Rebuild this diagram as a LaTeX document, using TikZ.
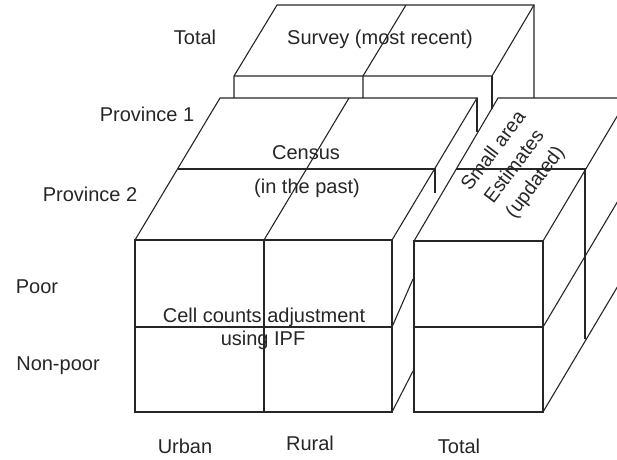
\documentclass[tikz,border=0pt]{standalone}
\usepackage{fontspec}
\setmainfont{Liberation Sans}
\usepackage{tikz}

\begin{document}
\begin{tikzpicture}[
    x=1pt, y=-1pt,
    edge/.style={line width=1.1pt, draw=black!85},
    lbl/.style={font=\fontsize{20}{24}\selectfont, inner sep=0pt, text height=14.3pt, text depth=0pt, text=black!85},
    slanted/.style={font=\fontsize{19.5}{26}\selectfont, inner sep=0pt, align=center, rotate=53, text=black!85}
]
\useasboundingbox (0,0) rectangle (617,459);

% Survey block (back, only its top is seen)
\draw[edge] (234,98) -- (234,76) -- (277,5) -- (534,5) -- (534,98);
\draw[edge] (234,76) -- (492,76) -- (534,5);
\draw[edge] (492,76) -- (492,109);
\draw[edge] (363,98) -- (363,76) -- (406,5);

% Census block - front face
\draw[edge] (135,240) rectangle (392,412);
\draw[edge] (264,240) -- (264,413);
\draw[edge] (135,327) -- (392,327);

% Census block - top face and right side
\draw[edge] (135,240) -- (220,98) -- (477,98) -- (392,240);
\draw[edge] (264,240) -- (349,98);
\draw[edge] (178,169) -- (435,169) -- (435,193);
\draw[edge] (477,98) -- (477,132);
\draw[edge] (392,327) -- (413,279);
\draw[edge] (392,412) -- (413,371);

% Small area block (Total column)
\begin{scope}
\clip (0,0) rectangle (617,459);
\draw[edge] (414,241) rectangle (543,412);
\draw[edge] (414,327) -- (543,327);
\draw[edge] (414,241) -- (498,98) -- (630,98);
\draw[edge] (543,241) -- (628,98);
\draw[edge] (456,169) -- (585,169) -- (585,339);
\draw[edge] (543,327) -- (628,184);
\draw[edge] (543,412) -- (628,269);
\end{scope}

% Labels
\node[lbl] (totTop) at (195,37) {Total};
\node[lbl] (survey) at (380,37) {Survey (most recent)};
\node[lbl] (prov1) at (147,114) {Province 1};
\node[lbl] (prov2) at (90,194) {Province 2};
\node[lbl] (census) at (306,152) {Census};
\node[lbl] (past) at (307,186) {(in the past)};
\node[slanted] (sae) at (515,167) {Small area\\Estimates\\(updated)};
\node[lbl] (poor) at (37,286) {Poor};
\node[lbl] (ipfA) at (264,315) {Cell counts adjustment};
\node[lbl] (ipfB) at (263,338) {using IPF};
\node[lbl] (nonpoor) at (58,363) {Non-poor};
\node[lbl] (urban) at (185,446) {Urban};
\node[lbl] (rural) at (310,443) {Rural};
\node[lbl] (totCol) at (459,446) {Total};

\end{tikzpicture}
\end{document}
